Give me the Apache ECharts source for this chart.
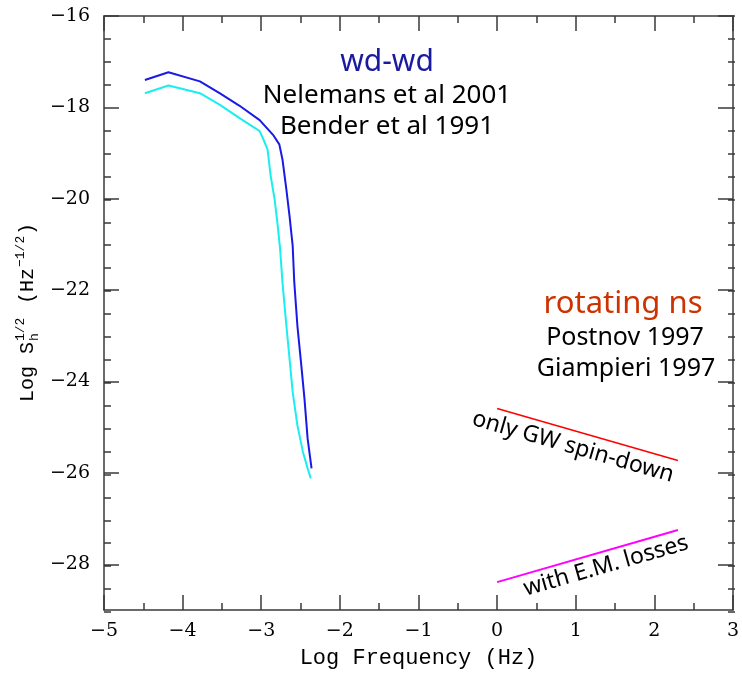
<!DOCTYPE html>
<html>
<head>
<meta charset="utf-8">
<script src="https://cdn.jsdelivr.net/npm/echarts@6/dist/echarts.min.js"></script>
<style>html,body{margin:0;padding:0;background:#fff;}#c{width:742px;height:674px;}</style>
</head>
<body>
<div id="c"></div>
<script>
// wd-wd (Nelemans et al 2001) upper curve
const wdBlueX = [-4.48, -4.18, -3.78, -3.53, -3.28, -3.02, -2.85, -2.77, -2.73, -2.68, -2.64, -2.60, -2.58, -2.54, -2.49, -2.45, -2.41, -2.36];
const wdBlueY = [-17.40, -17.23, -17.43, -17.69, -17.96, -18.28, -18.60, -18.81, -19.14, -19.80, -20.38, -21.03, -21.82, -22.78, -23.65, -24.38, -25.25, -25.90];
// wd-wd (Bender et al 1991) lower curve
const wdCyanX = [-4.48, -4.18, -3.78, -3.53, -3.28, -3.02, -2.98, -2.92, -2.88, -2.83, -2.79, -2.76, -2.73, -2.68, -2.64, -2.60, -2.54, -2.47, -2.41, -2.37];
const wdCyanY = [-17.69, -17.52, -17.69, -17.94, -18.23, -18.52, -18.67, -18.92, -19.50, -20.01, -20.60, -21.10, -21.83, -22.78, -23.50, -24.23, -24.96, -25.54, -25.90, -26.12];
// rotating ns
const gwX = [0.0, 2.30];
const gwY = [-24.59, -25.73];
const emX = [0.0, 2.30];
const emY = [-28.39, -27.25];
// ticks
const yMajorTicks = [-16, -18, -20, -22, -24, -26, -28];
const yMinorTicks = [];
for (let v = -29; v <= -16; v += 0.5) yMinorTicks.push(v);

const pairs = (xs, ys) => xs.map((x, i) => [x, ys[i]]);
const minus = v => String(v).replace('-', '\u2212');

const AXIS_COLOR = '#3a3a3a';
const tickFont = {fontFamily: 'DejaVu Serif', fontSize: 19, color: '#000'};
const gridRect = {left: 104, right: 7, top: 16, bottom: 62, containLabel: false};

const xCommon = {
  type: 'value', min: -5, max: 3, interval: 1, gridIndex: 0,
  splitLine: {show: false},
  axisLine: {show: true, onZero: false, lineStyle: {color: AXIS_COLOR, width: 1.5}},
  axisTick: {show: true, inside: true, length: 15, lineStyle: {color: AXIS_COLOR, width: 1.5}},
  minorTick: {show: true, splitNumber: 2, length: 7, lineStyle: {color: AXIS_COLOR, width: 1.5}}
};
const yMajor = pos => ({
  type: 'value', min: -29, max: -16, position: pos, gridIndex: 0,
  splitLine: {show: false},
  axisLine: {show: true, onZero: false, lineStyle: {color: AXIS_COLOR, width: 1.5}},
  axisTick: {show: true, inside: true, length: 15, customValues: yMajorTicks, lineStyle: {color: AXIS_COLOR, width: 1.5}},
  axisLabel: pos === 'left'
    ? Object.assign({margin: 14, customValues: yMajorTicks, formatter: minus}, tickFont)
    : {show: false}
});
const yMinor = pos => ({
  type: 'value', min: -29, max: -16, position: pos, gridIndex: 1,
  splitLine: {show: false},
  axisLine: {show: false, onZero: false},
  axisTick: {show: true, inside: true, length: 7, customValues: yMinorTicks, lineStyle: {color: AXIS_COLOR, width: 1.5}},
  axisLabel: {show: false}
});

const chart = echarts.init(document.getElementById('c'));
chart.setOption({
  animation: false,
  backgroundColor: '#fff',
  grid: [Object.assign({}, gridRect), Object.assign({}, gridRect)],
  xAxis: [
    Object.assign({}, xCommon, {
      position: 'bottom',
      axisLabel: Object.assign({margin: 12, formatter: minus}, tickFont),
      name: 'Log Frequency (Hz)', nameLocation: 'middle', nameGap: 37,
      nameTextStyle: {fontFamily: 'Liberation Mono', fontSize: 22, color: '#000'}
    }),
    Object.assign({}, xCommon, {position: 'top', axisLabel: {show: false}}),
    {type: 'value', min: -5, max: 3, gridIndex: 1, show: false}
  ],
  yAxis: [yMajor('left'), yMajor('right'), yMinor('left'), yMinor('right')],
  series: [
    {type: 'line', name: 'wd-wd Nelemans', xAxisIndex: 0, yAxisIndex: 0, data: pairs(wdBlueX, wdBlueY), showSymbol: false, symbol: 'none',
     lineStyle: {color: '#1a1ae8', width: 2}, z: 3},
    {type: 'line', name: 'wd-wd Bender', xAxisIndex: 0, yAxisIndex: 0, data: pairs(wdCyanX, wdCyanY), showSymbol: false, symbol: 'none',
     lineStyle: {color: '#1aeef0', width: 2}, z: 2},
    {type: 'line', name: 'only GW spin-down', xAxisIndex: 0, yAxisIndex: 0, data: pairs(gwX, gwY), showSymbol: false, symbol: 'none',
     lineStyle: {color: '#ff0000', width: 1.5}},
    {type: 'line', name: 'with E.M. losses', xAxisIndex: 0, yAxisIndex: 0, data: pairs(emX, emY), showSymbol: false, symbol: 'none',
     lineStyle: {color: '#ff00ff', width: 2}}
  ],
  graphic: [
    {type: 'text', x: 387, y: 62, style: {text: 'wd-wd', fill: '#1a1aa0', font: '30px "Noto Sans"', textAlign: 'center', textVerticalAlign: 'middle'}},
    {type: 'text', x: 387, y: 96, style: {text: 'Nelemans et al 2001', fill: '#000', font: '26px "Noto Sans"', textAlign: 'center', textVerticalAlign: 'middle'}},
    {type: 'text', x: 387, y: 127, style: {text: 'Bender et al 1991', fill: '#000', font: '26px "Noto Sans"', textAlign: 'center', textVerticalAlign: 'middle'}},
    {type: 'text', x: 623, y: 304, style: {text: 'rotating ns', fill: '#cc3300', font: '31px "Noto Sans"', textAlign: 'center', textVerticalAlign: 'middle'}},
    {type: 'text', x: 625, y: 338, style: {text: 'Postnov 1997', fill: '#000', font: '25px "Noto Sans"', textAlign: 'center', textVerticalAlign: 'middle'}},
    {type: 'text', x: 626, y: 369, style: {text: 'Giampieri 1997', fill: '#000', font: '25px "Noto Sans"', textAlign: 'center', textVerticalAlign: 'middle'}},
    {type: 'text', x: 573, y: 447, rotation: -16 * Math.PI / 180,
     style: {text: 'only GW spin-down', fill: '#000', font: '23px "Noto Sans"', textAlign: 'center', textVerticalAlign: 'middle'}},
    {type: 'text', x: 606, y: 566, rotation: 16 * Math.PI / 180,
     style: {text: 'with E.M. losses', fill: '#000', font: '23px "Noto Sans"', textAlign: 'center', textVerticalAlign: 'middle'}},
    {type: 'group', x: 28, y: 312, rotation: Math.PI / 2, children: [
      {type: 'text', x: -90, y: 0, style: {text: 'Log S', fill: '#000', font: '20px "Liberation Mono"', textAlign: 'left', textVerticalAlign: 'middle'}},
      {type: 'text', x: -29, y: -7, style: {text: '1/2', fill: '#000', font: '13px "Liberation Mono"', textAlign: 'left', textVerticalAlign: 'middle'}},
      {type: 'text', x: -29, y: 7, style: {text: 'h', fill: '#000', font: '13px "Liberation Mono"', textAlign: 'left', textVerticalAlign: 'middle'}},
      {type: 'text', x: 8, y: 0, style: {text: '(Hz', fill: '#000', font: '20px "Liberation Mono"', textAlign: 'left', textVerticalAlign: 'middle'}},
      {type: 'text', x: 45, y: -7, style: {text: '\u22121/2', fill: '#000', font: '13px "Liberation Mono"', textAlign: 'left', textVerticalAlign: 'middle'}},
      {type: 'text', x: 77, y: 0, style: {text: ')', fill: '#000', font: '20px "Liberation Mono"', textAlign: 'left', textVerticalAlign: 'middle'}}
    ]}
  ]
});
</script>
</body>
</html>
